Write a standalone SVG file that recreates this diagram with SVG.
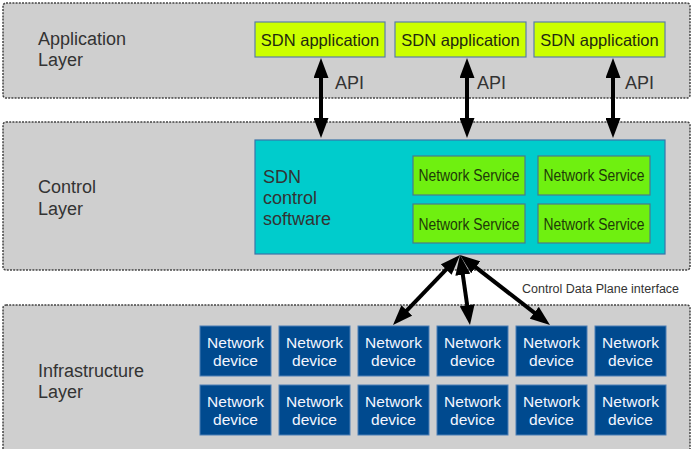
<svg xmlns="http://www.w3.org/2000/svg" width="697" height="449" viewBox="0 0 697 449">
<defs>
<style>
.layer{fill:#cfcfcf;stroke:#444;stroke-width:1.5;stroke-dasharray:2 1.2}
.lbl{font-family:"Liberation Sans",Arial,sans-serif;font-size:18px;fill:#333}
.app rect{fill:#ccff00;stroke:#5a7fa8;stroke-width:1.2}
.app text{font-family:"Liberation Sans",Arial,sans-serif;font-size:16.5px;fill:#1f2a10;text-anchor:middle}
.svc rect{fill:#6ff010;stroke:#4a7a8a;stroke-width:1.2}
.svc text{font-family:"Liberation Sans",Arial,sans-serif;font-size:16px;fill:#1e3a08;text-anchor:middle}
.dev rect{fill:#004a8f;stroke:#4d7fb5;stroke-width:1}
.dev text{font-family:"Liberation Sans",Arial,sans-serif;font-size:15.5px;fill:#f4f6ff;text-anchor:middle}
.conn line{stroke:#000;stroke-width:4;marker-start:url(#ah);marker-end:url(#ah)}
</style>
<marker id="ah" markerUnits="userSpaceOnUse" markerWidth="20" markerHeight="15" refX="13" refY="7.5" orient="auto-start-reverse">
<path d="M0,0 L20,7.5 L0,15 z" fill="#000"/>
</marker>
</defs>

<g id="application-layer">
<rect class="layer" x="3" y="3" width="687" height="95" rx="3"/>
<text class="lbl" x="38" y="45">Application</text>
<text class="lbl" x="38" y="66">Layer</text>
</g>
<g id="control-layer">
<rect class="layer" x="3" y="122" width="687" height="148" rx="3"/>
<text class="lbl" x="38" y="193">Control</text>
<text class="lbl" x="38" y="215">Layer</text>
</g>
<g id="infrastructure-layer">
<rect class="layer" x="3" y="305" width="687" height="155" rx="3"/>
<text class="lbl" x="38" y="377">Infrastructure</text>
<text class="lbl" x="38" y="398">Layer</text>
</g>

<g id="app1" class="app"><rect x="255" y="22" width="130" height="35"/><text x="320" y="46">SDN application</text></g>
<g id="app2" class="app"><rect x="395" y="22" width="131" height="35"/><text x="460.5" y="46">SDN application</text></g>
<g id="app3" class="app"><rect x="534" y="22" width="131" height="35"/><text x="599.5" y="46">SDN application</text></g>

<g id="controller">
<rect x="255" y="140" width="410" height="114" fill="#00cccc" stroke="#3a74a8" stroke-width="1.2"/>
<text class="lbl" x="263" y="183">SDN</text>
<text class="lbl" x="263" y="204">control</text>
<text class="lbl" x="263" y="225">software</text>
</g>
<g id="svc1" class="svc"><rect x="413" y="156" width="112" height="39"/><text x="469" y="181" textLength="101" lengthAdjust="spacingAndGlyphs">Network Service</text></g>
<g id="svc2" class="svc"><rect x="538" y="156" width="112" height="39"/><text x="594" y="181" textLength="101" lengthAdjust="spacingAndGlyphs">Network Service</text></g>
<g id="svc3" class="svc"><rect x="413" y="204" width="112" height="39"/><text x="469" y="230" textLength="101" lengthAdjust="spacingAndGlyphs">Network Service</text></g>
<g id="svc4" class="svc"><rect x="538" y="204" width="112" height="39"/><text x="594" y="230" textLength="101" lengthAdjust="spacingAndGlyphs">Network Service</text></g>

<g id="dev1" class="dev"><rect x="200" y="326" width="71" height="50"/><text x="235.5" y="348">Network</text><text x="235.5" y="366">device</text></g>
<g id="dev2" class="dev"><rect x="279" y="326" width="71" height="50"/><text x="314.5" y="348">Network</text><text x="314.5" y="366">device</text></g>
<g id="dev3" class="dev"><rect x="358" y="326" width="71" height="50"/><text x="393.5" y="348">Network</text><text x="393.5" y="366">device</text></g>
<g id="dev4" class="dev"><rect x="437" y="326" width="71" height="50"/><text x="472.5" y="348">Network</text><text x="472.5" y="366">device</text></g>
<g id="dev5" class="dev"><rect x="516" y="326" width="71" height="50"/><text x="551.5" y="348">Network</text><text x="551.5" y="366">device</text></g>
<g id="dev6" class="dev"><rect x="595" y="326" width="71" height="50"/><text x="630.5" y="348">Network</text><text x="630.5" y="366">device</text></g>
<g id="dev7" class="dev"><rect x="200" y="385" width="71" height="50"/><text x="235.5" y="407">Network</text><text x="235.5" y="425">device</text></g>
<g id="dev8" class="dev"><rect x="279" y="385" width="71" height="50"/><text x="314.5" y="407">Network</text><text x="314.5" y="425">device</text></g>
<g id="dev9" class="dev"><rect x="358" y="385" width="71" height="50"/><text x="393.5" y="407">Network</text><text x="393.5" y="425">device</text></g>
<g id="dev10" class="dev"><rect x="437" y="385" width="71" height="50"/><text x="472.5" y="407">Network</text><text x="472.5" y="425">device</text></g>
<g id="dev11" class="dev"><rect x="516" y="385" width="71" height="50"/><text x="551.5" y="407">Network</text><text x="551.5" y="425">device</text></g>
<g id="dev12" class="dev"><rect x="595" y="385" width="71" height="50"/><text x="630.5" y="407">Network</text><text x="630.5" y="425">device</text></g>

<g id="connectors" class="conn">
<line x1="321" y1="65" x2="321" y2="131"/>
<line x1="467" y1="65" x2="467" y2="131"/>
<line x1="613" y1="65" x2="613" y2="131"/>
<line x1="455.16" y1="260.05" x2="397.84" y2="319.95"/>
<line x1="460.99" y1="261.93" x2="469.01" y2="318.07"/>
<line x1="465.53" y1="259.3" x2="544.47" y2="320.7"/>
</g>
<g id="connector-labels">
<text class="lbl" x="335" y="89">API</text>
<text class="lbl" x="477" y="89">API</text>
<text class="lbl" x="625" y="89">API</text>
<text x="522" y="293" style="font-family:'Liberation Sans',Arial,sans-serif;font-size:12.5px;fill:#333">Control Data Plane interface</text>
</g>
</svg>
